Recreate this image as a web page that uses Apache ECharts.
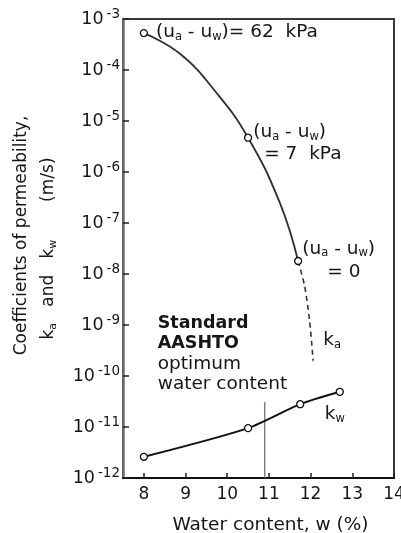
<!DOCTYPE html>
<html>
<head>
<meta charset="utf-8">
<script src="https://cdn.jsdelivr.net/npm/echarts@6/dist/echarts.min.js"></script>
<style>
  html, body { margin: 0; padding: 0; background: #ffffff; }
  #chart { width: 401px; height: 533px; }
</style>
</head>
<body>
<div id="chart"></div>
<script>
// Measured points on the ka curve: water content (%), ka (m/s), matric suction label
const kaPointW = [8, 10.5, 11.7];
const kaPointK = [5.3e-4, 4.7e-6, 1.8e-8];
const kaSuction = ['62  kPa', '7  kPa', '0'];

// Drawn ka curve through the measured points
const kaCurveW = [8, 8.86, 9.75, 10.5, 11.26, 11.7];
const kaCurveK = [5.3e-4, 2.1e-4, 3.5e-5, 4.7e-6, 2.5e-7, 1.8e-8];

// Extrapolated (dashed) part of ka
const kaExtW = [11.7, 11.86, 11.98, 12.06];
const kaExtK = [1.8e-8, 5.6e-9, 1.1e-9, 2.0e-10];

// Water coefficient of permeability kw
const kwW = [8, 10.5, 11.75, 12.7];
const kwK = [2.6e-12, 9.5e-12, 2.8e-11, 4.9e-11];

// Standard AASHTO optimum water content marker line
const optimumW = 10.9;
const optimumK = [1e-12, 3.1e-11];

// Axis ticks
const xTicks = [8, 9, 10, 11, 12, 13, 14];
const yExponents = [-12, -11, -10, -9, -8, -7, -6, -5, -4, -3];

const FONT = '"DejaVu Sans", Verdana, sans-serif';
const INK = '#161616';

const zip = (a, b) => a.map((v, i) => [v, b[i]]);

// Rich text styles for subscripts in (ua - uw) and k symbols
const annRich = {
  t:   { fontFamily: FONT, fontSize: 18.5, color: INK, lineHeight: 21 },
  sub: { fontFamily: FONT, fontSize: 11.5, color: INK, verticalAlign: 'middle', lineHeight: 21, padding: [9, 0, 0, 0] },
  t2:  { fontFamily: FONT, fontSize: 18.5, color: INK, lineHeight: 23, padding: [0, 0, 0, 11] },
  t3:  { fontFamily: FONT, fontSize: 18.5, color: INK, lineHeight: 26, padding: [0, 0, 0, 25] },
  sb:  { fontFamily: FONT, fontSize: 17.5, fontWeight: 'bold', color: INK, lineHeight: 20.5 },
  sn:  { fontFamily: FONT, fontSize: 18.5, color: INK, lineHeight: 20.5 }
};
const suctionHead = '{t|(u}{sub|a}{t| - u}{sub|w}{t|)}';

const kaPointData = kaPointW.map((w, i) => {
  let label;
  if (i === 0) {
    label = { show: true, position: 'right', distance: 8, offset: [0, -1],
      formatter: suctionHead + '{t|= ' + kaSuction[i] + '}' };
  } else if (i === 1) {
    label = { show: true, position: 'right', distance: 1, offset: [0, 6], align: 'left',
      formatter: suctionHead + '\n{t2|= ' + kaSuction[i] + '}' };
  } else {
    label = { show: true, position: 'right', distance: 1, offset: [-1, 1], align: 'left',
      formatter: suctionHead + '\n{t3|= ' + kaSuction[i] + '}' };
  }
  return { value: [w, kaPointK[i]], label: label };
});

const kaExtData = zip(kaExtW, kaExtK).map((p, i, arr) => i === arr.length - 1
  ? { value: p, label: { show: true, position: 'right', distance: 8, offset: [1, -20],
      formatter: '{t|k}{sub|a}' } }
  : { value: p });

const kwData = zip(kwW, kwK).map((p, i, arr) => i === arr.length - 1
  ? { value: p, label: { show: true, position: 'bottom', distance: 6, offset: [-5, 2],
      formatter: '{t|k}{sub|w}' } }
  : { value: p });

const optimumData = [
  { value: [optimumW, optimumK[0]] },
  { value: [optimumW, optimumK[1]],
    label: { show: true, position: 'top', distance: 6, offset: [-107, 0], align: 'left',
      formatter: '{sb|Standard}\n{sb|AASHTO}\n{sn|optimum}\n{sn|water content}' } }
];

const chart = echarts.init(document.getElementById('chart'), null, { renderer: 'canvas' });

chart.setOption({
  backgroundColor: '#ffffff',
  animation: false,
  grid: {
    left: 123, right: 7, top: 19, bottom: 55,
    outerBoundsMode: 'none',
    show: true, borderColor: '#3a3a3a', borderWidth: 2, backgroundColor: 'transparent'
  },
  xAxis: {
    type: 'value', min: 7.5, max: 14,
    name: 'Water content, w (%)',
    nameLocation: 'middle', nameGap: 38,
    nameTextStyle: { fontFamily: FONT, fontSize: 18.5, color: INK, padding: [0, 0, 0, 24] },
    axisLine: { show: true, lineStyle: { color: '#111', width: 2 } },
    axisTick: { show: true, inside: true, length: 5, customValues: xTicks, lineStyle: { color: '#222', width: 1.5 } },
    axisLabel: { show: true, customValues: xTicks, margin: 8, fontFamily: FONT, fontSize: 17, color: INK },
    splitLine: { show: false }
  },
  yAxis: {
    type: 'log', logBase: 10, min: 1e-12, max: 1e-3, interval: 1,
    name: '{l1|Coefficients of permeability,}\n{l2|k}{s2|a}{l2|   and   k}{s2|w}{l2|       (m/s)}',
    nameLocation: 'middle', nameRotate: 90, nameGap: 61,
    nameTextStyle: {
      rich: {
        l1: { fontFamily: FONT, fontSize: 17, color: INK, lineHeight: 27, padding: [0, 0, 0, 26] },
        l2: { fontFamily: FONT, fontSize: 17, color: INK, lineHeight: 27 },
        s2: { fontFamily: FONT, fontSize: 11, color: INK, lineHeight: 27, verticalAlign: 'middle', padding: [9, 0, 0, 0] }
      }
    },
    axisLine: { show: true, lineStyle: { color: '#6e6e6e', width: 2.5 } },
    axisTick: { show: true, inside: true, length: 6, lineStyle: { color: '#222', width: 1.5 } },
    axisLabel: {
      margin: 3,
      formatter: (v) => '{b|10}{s|' + Math.round(Math.log10(v)) + '}',
      rich: {
        b: { fontFamily: FONT, fontSize: 17.5, color: INK },
        s: { fontFamily: FONT, fontSize: 13.5, color: INK, verticalAlign: 'middle', padding: [0, 0, 10, 3] }
      }
    },
    splitLine: { show: false }
  },
  series: [
    {
      name: 'ka curve', type: 'line', data: zip(kaCurveW, kaCurveK),
      smooth: 0.45, showSymbol: false, silent: true,
      lineStyle: { color: '#2e2e2e', width: 1.8 }
    },
    {
      name: 'ka extrapolated', type: 'line', data: kaExtData,
      smooth: 0.3, showSymbol: true, symbolSize: 0.1, silent: true,
      lineStyle: { color: '#333', width: 1.6, type: [5, 4] },
      itemStyle: { color: '#333' },
      label: { color: INK, rich: annRich }
    },
    {
      name: 'kw', type: 'line', data: kwData,
      smooth: 0.25, symbol: 'circle', symbolSize: 7, z: 4,
      lineStyle: { color: '#111', width: 2 },
      itemStyle: { color: '#ffffff', borderColor: '#111', borderWidth: 1.3 },
      label: { color: INK, rich: annRich }
    },
    {
      name: 'optimum', type: 'line', data: optimumData,
      showSymbol: true, symbolSize: 0.1, silent: true, z: 1,
      lineStyle: { color: '#666', width: 1.2 },
      itemStyle: { color: '#666' },
      label: { color: INK, rich: annRich }
    },
    {
      name: 'ka points', type: 'scatter', data: kaPointData,
      symbol: 'circle', symbolSize: 7, z: 5,
      itemStyle: { color: '#ffffff', borderColor: '#111', borderWidth: 1.3, opacity: 1 },
      label: { color: INK, rich: annRich }
    }
  ]
});
</script>
</body>
</html>
